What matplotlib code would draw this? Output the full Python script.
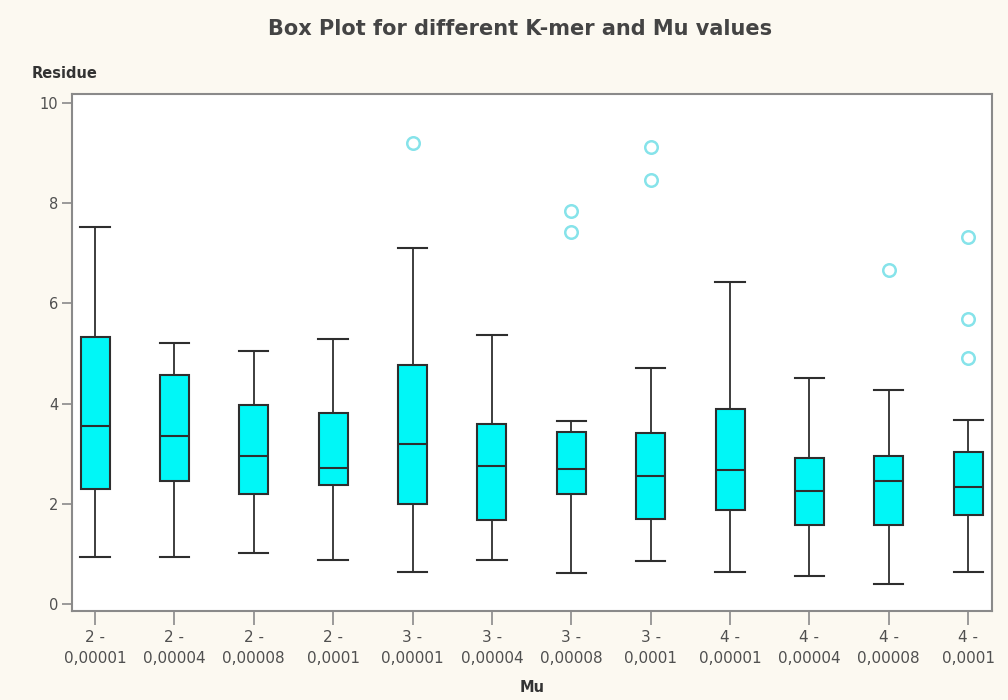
import matplotlib.pyplot as plt
import numpy as np

# Data
kmer = ['2', '2', '2', '2', '3', '3', '3', '3', '4', '4', '4', '4']
mu = ['0,00001', '0,00004', '0,00008', '0,0001'] * 3
whislo = [0.94, 0.94, 1.02, 0.88, 0.64, 0.88, 0.62, 0.86, 0.64, 0.56, 0.40, 0.64]
q1 = [2.30, 2.46, 2.20, 2.38, 2.00, 1.68, 2.20, 1.70, 1.88, 1.58, 1.58, 1.78]
med = [3.56, 3.36, 2.96, 2.72, 3.20, 2.76, 2.70, 2.56, 2.68, 2.26, 2.46, 2.34]
q3 = [5.33, 4.58, 3.98, 3.82, 4.78, 3.60, 3.44, 3.42, 3.90, 2.92, 2.96, 3.04]
whishi = [7.53, 5.20, 5.04, 5.28, 7.10, 5.36, 3.66, 4.72, 6.42, 4.52, 4.28, 3.68]
fliers = [[], [], [], [], [9.20], [], [7.84, 7.42], [9.12, 8.46], [], [], [6.66], [7.32, 5.68, 4.92]]

stats = []
for i in range(len(kmer)):
    stats.append(dict(whislo=whislo[i], q1=q1[i], med=med[i], q3=q3[i],
                      whishi=whishi[i], fliers=fliers[i]))

bg = '#fcf9f1'
edge = '#2e2e2e'
fig = plt.figure(figsize=(10.08, 7), dpi=100, facecolor=bg)
ax = fig.add_axes([72/1008, 1-611/700, (992-72)/1008, (611-94)/700])
ax.set_facecolor('white')

pos = np.arange(1, len(kmer) + 1)
ax.bxp(stats, positions=pos, widths=0.365, patch_artist=True,
       boxprops=dict(facecolor='#00f7f7', edgecolor=edge, linewidth=1.5),
       medianprops=dict(color=edge, linewidth=1.5),
       whiskerprops=dict(color=edge, linewidth=1.3),
       capprops=dict(color=edge, linewidth=1.5),
       capwidths=0.37,
       flierprops=dict(marker='o', markerfacecolor='none', markeredgecolor='#86e3ea',
                       markersize=9, markeredgewidth=1.8))

ax.set_xlim(0.71, 12.30)
ax.set_ylim(-0.14, 10.18)
ax.set_yticks([0, 2, 4, 6, 8, 10])
ax.set_xticks(pos)
ax.set_xticklabels([k + ' -\n' + m for k, m in zip(kmer, mu)])

for s in ax.spines.values():
    s.set_color('#8a8a8a')
    s.set_linewidth(1.5)
ax.tick_params(axis='both', colors='#8a8a8a', labelcolor='#505050', labelsize=10.5,
               length=10, width=1.2, direction='out')
ax.tick_params(axis='y', length=7, pad=3)
ax.tick_params(axis='x', pad=4, labelsize=11)
for t in ax.get_xticklabels():
    t.set_linespacing(1.45)

fig.text(32/1008, 1-73/700, 'Residue', fontsize=10.5, fontweight='bold',
         color='#333333', ha='left', va='center')
ax.set_xlabel('Mu', fontsize=10.5, fontweight='bold', color='#333333', labelpad=10)
fig.text(0.516, 1-29/700, 'Box Plot for different K-mer and Mu values', fontsize=15,
         fontweight='bold', color='#444444', ha='center', va='center')

fig.savefig('out.png', dpi=100, facecolor=bg)
